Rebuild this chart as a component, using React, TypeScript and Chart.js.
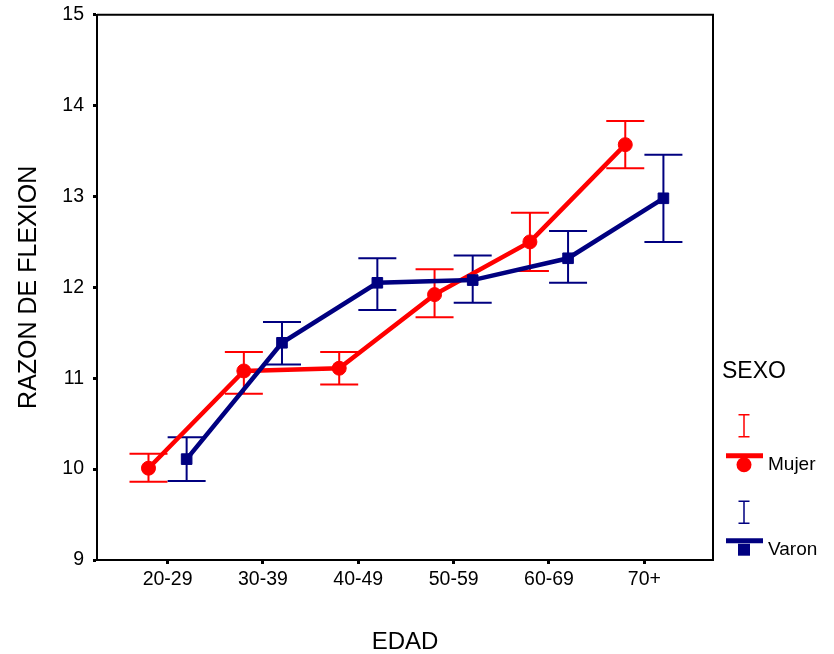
import React, { useEffect, useRef } from "react";
import { Chart, registerables } from "chart.js";

Chart.register(...registerables);

const categories = ["20-29", "30-39", "40-49", "50-59", "60-69", "70+"];
const yTicks = [9, 10, 11, 12, 13, 14, 15];

const mujerMean = [10.01, 11.08, 11.11, 11.92, 12.5, 13.57];
const mujerLower = [9.86, 10.83, 10.93, 11.67, 12.18, 13.31];
const mujerUpper = [10.17, 11.29, 11.29, 12.2, 12.82, 13.83];

const varonMean = [10.11, 11.39, 12.05, 12.08, 12.32, 12.98];
const varonLower = [9.87, 11.15, 11.75, 11.83, 12.05, 12.5];
const varonUpper = [10.35, 11.62, 12.32, 12.35, 12.62, 13.46];

const seriesNames = ["Mujer", "Varon"];
const FONT = "'Liberation Sans', Arial, sans-serif";
const RED = "#ff0000";
const NAVY = "#000080";

const errorBarPlugin = {
  id: "errorBars",
  beforeDatasetsDraw(chart: any) {
    const ctx = chart.ctx;
    const y = chart.scales.y;
    chart.data.datasets.forEach((ds: any, i: number) => {
      const meta = chart.getDatasetMeta(i);
      ctx.save();
      ctx.strokeStyle = ds.borderColor;
      ctx.lineWidth = 2;
      meta.data.forEach((pt: any, j: number) => {
        const x = pt.x;
        const yl = y.getPixelForValue(ds.lower[j]);
        const yh = y.getPixelForValue(ds.upper[j]);
        ctx.beginPath();
        ctx.moveTo(x, yl);
        ctx.lineTo(x, yh);
        ctx.moveTo(x - 19, yl);
        ctx.lineTo(x + 19, yl);
        ctx.moveTo(x - 19, yh);
        ctx.lineTo(x + 19, yh);
        ctx.stroke();
      });
      ctx.restore();
    });
  },
};

const frameLegendPlugin = {
  id: "frameLegend",
  afterDraw(chart: any) {
    const { ctx, chartArea: a } = chart;
    ctx.save();
    ctx.strokeStyle = "#000";
    ctx.lineWidth = 2;
    ctx.beginPath();
    ctx.moveTo(a.left, a.top);
    ctx.lineTo(a.right, a.top);
    ctx.lineTo(a.right, a.bottom);
    ctx.stroke();

    // legend
    ctx.fillStyle = "#000";
    ctx.textAlign = "left";
    ctx.textBaseline = "middle";
    ctx.font = `23px ${FONT}`;
    ctx.fillText("SEXO", a.right + 9, a.top + 357);

    chart.data.datasets.forEach((ds: any, k: number) => {
      const color = ds.borderColor;
      const cx = a.right + 31;
      const ey = a.top + 400 + k * 86.5;
      ctx.strokeStyle = color;
      ctx.lineWidth = 1.5;
      ctx.beginPath();
      ctx.moveTo(cx, ey);
      ctx.lineTo(cx, ey + 22);
      ctx.moveTo(cx - 5.5, ey);
      ctx.lineTo(cx + 5.5, ey);
      ctx.moveTo(cx - 5.5, ey + 22);
      ctx.lineTo(cx + 5.5, ey + 22);
      ctx.stroke();

      const ly = a.top + 441 + k * 85;
      const my = ly + 9;
      ctx.fillStyle = color;
      if (ds.pointStyle === "rect") {
        ctx.fillRect(cx - 6, my - 6, 12, 12);
      } else {
        ctx.beginPath();
        ctx.arc(cx, my, 7.5, 0, Math.PI * 2);
        ctx.fill();
      }
      ctx.lineWidth = 5;
      ctx.beginPath();
      ctx.moveTo(a.right + 13, ly);
      ctx.lineTo(a.right + 50, ly);
      ctx.stroke();

      ctx.fillStyle = "#000";
      ctx.font = `19px ${FONT}`;
      ctx.fillText(ds.label, a.right + 55, my);
    });
    ctx.restore();
  },
};

export default function App() {
  const canvasRef = useRef<HTMLCanvasElement | null>(null);

  useEffect(() => {
    if (!canvasRef.current) return;
    Chart.defaults.font.family = FONT;
    const mkData = (vals: number[], off: number) =>
      vals.map((v, i) => ({ x: i + off, y: v }));

    const chart = new Chart(canvasRef.current, {
      type: "line",
      data: {
        datasets: [
          {
            label: seriesNames[0],
            data: mkData(mujerMean, -0.2),
            lower: mujerLower,
            upper: mujerUpper,
            borderColor: RED,
            backgroundColor: RED,
            borderWidth: 4.5,
            pointStyle: "circle",
            pointRadius: 7,
            pointBorderWidth: 1,
            tension: 0,
            order: 2,
          } as any,
          {
            label: seriesNames[1],
            data: mkData(varonMean, 0.2),
            lower: varonLower,
            upper: varonUpper,
            borderColor: NAVY,
            backgroundColor: NAVY,
            borderWidth: 4.5,
            pointStyle: "rect",
            pointRadius: 7.5,
            pointBorderWidth: 1,
            tension: 0,
            order: 1,
          } as any,
        ],
      },
      options: {
        responsive: false,
        animation: false,
        devicePixelRatio: 1,
        layout: { padding: { top: 14.7, right: 121, bottom: 0, left: 0 } },
        plugins: {
          legend: { display: false },
          tooltip: { enabled: false },
        },
        scales: {
          x: {
            type: "linear",
            min: -0.74,
            max: 5.72,
            afterBuildTicks: (s: any) => {
              s.ticks = categories.map((_, i) => ({ value: i }));
            },
            afterFit: (s: any) => {
              s.height = 94;
              s.paddingLeft = 0;
              s.paddingRight = 0;
            },
            ticks: {
              autoSkip: false,
              maxRotation: 0,
              padding: 4,
              color: "#000",
              font: { size: 19.5 },
              callback: (v: any) => categories[v] ?? "",
            },
            grid: {
              display: true,
              drawOnChartArea: false,
              drawTicks: true,
              tickLength: 4,
              tickWidth: 3,
              tickColor: "#000",
            },
            border: { display: true, color: "#000", width: 2 },
            title: {
              display: true,
              text: "EDAD",
              color: "#000",
              font: { size: 24, lineHeight: 1 },
              padding: { top: 0, bottom: 0 },
            },
          },
          y: {
            type: "linear",
            min: 9,
            max: 15,
            afterBuildTicks: (s: any) => {
              s.ticks = yTicks.map((v) => ({ value: v }));
            },
            afterFit: (s: any) => {
              s.width = 97;
              s.paddingTop = 0;
              s.paddingBottom = 0;
            },
            ticks: {
              padding: 9,
              color: "#000",
              font: { size: 19.5 },
            },
            grid: {
              display: true,
              drawOnChartArea: false,
              drawTicks: true,
              tickLength: 4,
              tickWidth: 3,
              tickColor: "#000",
            },
            border: { display: true, color: "#000", width: 2 },
            title: {
              display: true,
              text: "RAZON DE FLEXION",
              color: "#000",
              font: { size: 25 },
              padding: { top: 14, bottom: 0 },
            },
          },
        },
      } as any,
      plugins: [errorBarPlugin, frameLegendPlugin],
    });
    return () => chart.destroy();
  }, []);

  return (
    <div style={{ position: "fixed", left: 0, top: 0, width: 834, height: 654, background: "#fff" }}>
      <canvas ref={canvasRef} width={834} height={654} />
    </div>
  );
}
